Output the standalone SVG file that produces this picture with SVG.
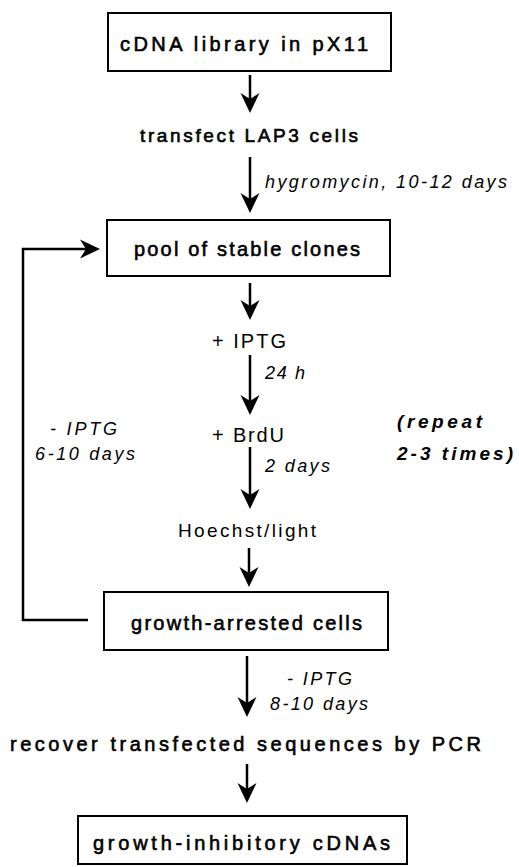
<svg xmlns="http://www.w3.org/2000/svg" width="519" height="867" viewBox="0 0 519 867">
<style>
  .box { fill: #ffffff; stroke: #000; stroke-width: 2; }
  .t { font-family: "Liberation Sans", Arial, sans-serif; fill: #000; }
  .b { font-size: 20px; stroke: #000; stroke-width: 0.6; }
  .n { font-size: 20px; }
  .i { font-style: italic; font-size: 18px; }
  .bi { font-style: italic; font-weight: bold; font-size: 19px; }
  .c { fill: none; stroke: #000; stroke-width: 2.5; }
</style>
<defs>
  <marker id="ah" markerUnits="userSpaceOnUse" markerWidth="22" markerHeight="22" viewBox="0 -11 22 22" refX="14" refY="0" orient="auto">
    <path d="M20,0 L0,-9.5 L6,0 L0,9.5 Z" fill="#000"/>
  </marker>
</defs>
<rect width="519" height="867" fill="#ffffff"/>

<g id="connectors">
  <line class="c" x1="250" y1="75" x2="250" y2="107" marker-end="url(#ah)"/>
  <line class="c" x1="250" y1="157" x2="250" y2="207" marker-end="url(#ah)"/>
  <line class="c" x1="250" y1="283" x2="250" y2="314" marker-end="url(#ah)"/>
  <line class="c" x1="250" y1="355" x2="250" y2="409" marker-end="url(#ah)"/>
  <line class="c" x1="250" y1="447" x2="250" y2="503" marker-end="url(#ah)"/>
  <line class="c" x1="249" y1="548" x2="249" y2="581" marker-end="url(#ah)"/>
  <line class="c" x1="247" y1="656" x2="247" y2="711" marker-end="url(#ah)"/>
  <line class="c" x1="247" y1="764" x2="247" y2="797" marker-end="url(#ah)"/>
  <path class="c" d="M88,620 L23,620 L23,249 L94,249" marker-end="url(#ah)"/>
</g>

<g id="library">
  <rect class="box" x="108" y="13" width="283" height="58"/>
  <text class="t b" x="120" y="51" textLength="248" lengthAdjust="spacing">cDNA library in pX11</text>
</g>
<g id="transfect">
  <text class="t b" x="140" y="142" textLength="218" lengthAdjust="spacing" style="font-size:19px">transfect LAP3 cells</text>
</g>
<g id="hygro-label">
  <text class="t i" x="265" y="188" textLength="242" lengthAdjust="spacing">hygromycin, 10-12 days</text>
</g>
<g id="pool">
  <rect class="box" x="107" y="220" width="283" height="56"/>
  <text class="t b" x="134" y="256" textLength="226" lengthAdjust="spacing">pool of stable clones</text>
</g>
<g id="iptg">
  <text class="t n" x="212" y="348" textLength="74" lengthAdjust="spacing">+ IPTG</text>
</g>
<g id="h24-label">
  <text class="t i" x="265" y="379" textLength="40" lengthAdjust="spacing">24 h</text>
</g>
<g id="brdu">
  <text class="t n" x="212" y="442" textLength="72" lengthAdjust="spacing">+ BrdU</text>
</g>
<g id="days2-label">
  <text class="t i" x="265" y="472" textLength="65" lengthAdjust="spacing">2 days</text>
</g>
<g id="hoechst">
  <text class="t n" x="178" y="537" textLength="138" lengthAdjust="spacing" style="font-size:19px">Hoechst/light</text>
</g>
<g id="feedback-label">
  <text class="t i" x="50" y="435" textLength="67" lengthAdjust="spacing">- IPTG</text>
  <text class="t i" x="35" y="460" textLength="100" lengthAdjust="spacing">6-10 days</text>
</g>
<g id="repeat-note">
  <text class="t bi" x="397" y="428" textLength="85" lengthAdjust="spacing">(repeat</text>
  <text class="t bi" x="397" y="460" textLength="116" lengthAdjust="spacing">2-3 times)</text>
</g>
<g id="arrested">
  <rect class="box" x="104" y="592" width="284" height="58"/>
  <text class="t b" x="131" y="630" textLength="231" lengthAdjust="spacing">growth-arrested cells</text>
</g>
<g id="iptg-minus-label">
  <text class="t i" x="287" y="685" textLength="65" lengthAdjust="spacing">- IPTG</text>
  <text class="t i" x="270" y="710" textLength="98" lengthAdjust="spacing">8-10 days</text>
</g>
<g id="recover">
  <text class="t b" x="10" y="751" textLength="471" lengthAdjust="spacing">recover transfected sequences by PCR</text>
</g>
<g id="inhibitory">
  <rect class="box" x="78" y="816" width="329" height="48"/>
  <text class="t b" x="93" y="850" textLength="297" lengthAdjust="spacing">growth-inhibitory cDNAs</text>
</g>
</svg>
